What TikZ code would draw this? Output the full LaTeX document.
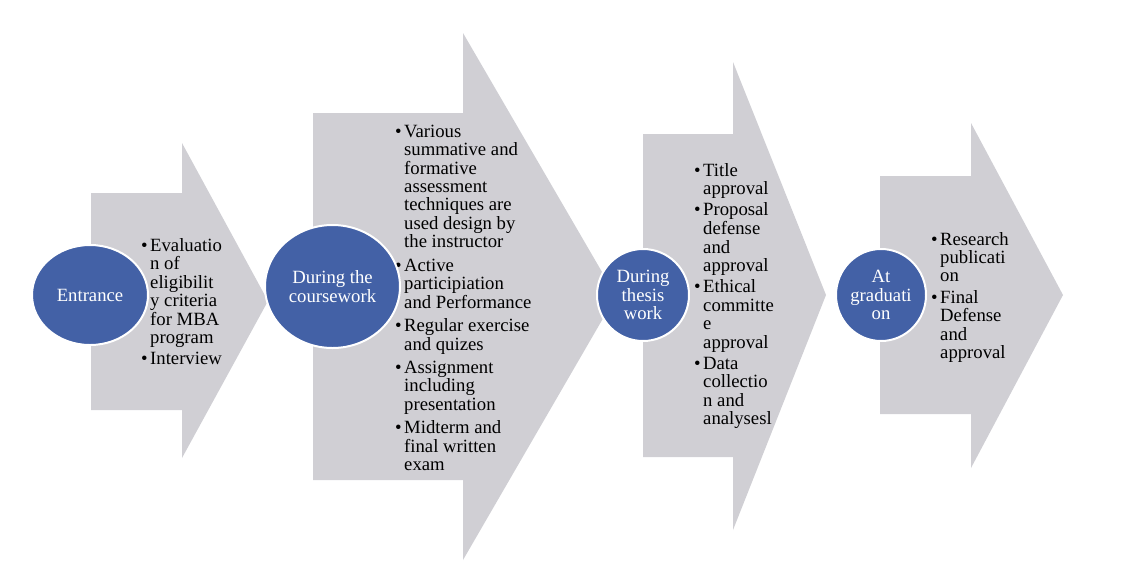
\documentclass[tikz,border=0pt]{standalone}
\usepackage{fontspec}
\setmainfont{Liberation Serif}
\usetikzlibrary{shapes.geometric}
\definecolor{arrowgray}{RGB}{208,207,212}
\definecolor{circblue}{RGB}{67,97,166}
\newcommand{\bul}{\llap{\textbullet\hspace{2.5pt}}}
\begin{document}
\begin{tikzpicture}[x=1pt,y=-1pt,
  chev/.style={fill=arrowgray, draw=none},
  stage/.style={ellipse, fill=circblue, draw=white, line width=2pt, inner sep=0pt,
    text=white, align=center, font=\fontsize{18.7}{18.3}\selectfont},
  itemlist/.style={anchor=base west, inner sep=0pt, text=black,
    font=\fontsize{18.7}{18.3}\selectfont}]
\useasboundingbox (0,0) rectangle (1121,584);
% arrows
\fill[chev] (91,193) -- (182,193) -- (182,143) -- (268,301) -- (182,458) -- (182,410) -- (91,410) -- cycle;
\fill[chev] (313,113) -- (463,113) -- (463,33) -- (616,296) -- (463,560) -- (463,480) -- (313,480) -- cycle;
\fill[chev] (643,134) -- (733,134) -- (733,62) -- (826,295) -- (733,530) -- (733,457) -- (643,457) -- cycle;
\fill[chev] (880,176) -- (971,176) -- (971,123) -- (1063,295) -- (971,468) -- (971,414) -- (880,414) -- cycle;
% item lists
\node[itemlist] (l1) at (150,251) {\begin{tabular}[t]{@{}l@{}}
\bul Evaluatio\\ n of\\ eligibilit\\ y criteria\\ for MBA\\ program\\[3pt]
\bul Interview\end{tabular}};
\node[itemlist] (l2) at (404,137) {\begin{tabular}[t]{@{}l@{}}
\bul Various\\ summative and\\ formative\\ assessment\\ techniques are\\ used design by\\ the instructor\\[5pt]
\bul Active\\ participiation\\ and Performance\\[5pt]
\bul Regular exercise\\ and quizes\\[5pt]
\bul Assignment\\ including\\ presentation\\[5pt]
\bul Midterm and\\ final written\\ exam\end{tabular}};
\node[itemlist] (l3) at (703,176) {\begin{tabular}[t]{@{}l@{}}
\bul Title\\ approval\\[3pt]
\bul Proposal\\ defense\\ and\\ approval\\[3pt]
\bul Ethical\\ committe\\ e\\ approval\\[3pt]
\bul Data\\ collectio\\ n and\\ analysesl\end{tabular}};
\node[itemlist] (l4) at (940,245) {\begin{tabular}[t]{@{}l@{}}
\bul Research\\ publicati\\ on\\[3pt]
\bul Final\\ Defense\\ and\\ approval\end{tabular}};
% stages
\node[stage, minimum width=116pt, minimum height=100pt] (s1) at (90,295) {Entrance};
\node[stage, minimum width=135pt, minimum height=123pt] (s2) at (332.5,286.5) {During the\\coursework};
\node[stage, minimum width=92pt, minimum height=92pt] (s3) at (643,295) {During\\thesis\\work};
\node[stage, minimum width=90pt, minimum height=92pt] (s4) at (881,295) {At\\graduati\\on};
\end{tikzpicture}
\end{document}
